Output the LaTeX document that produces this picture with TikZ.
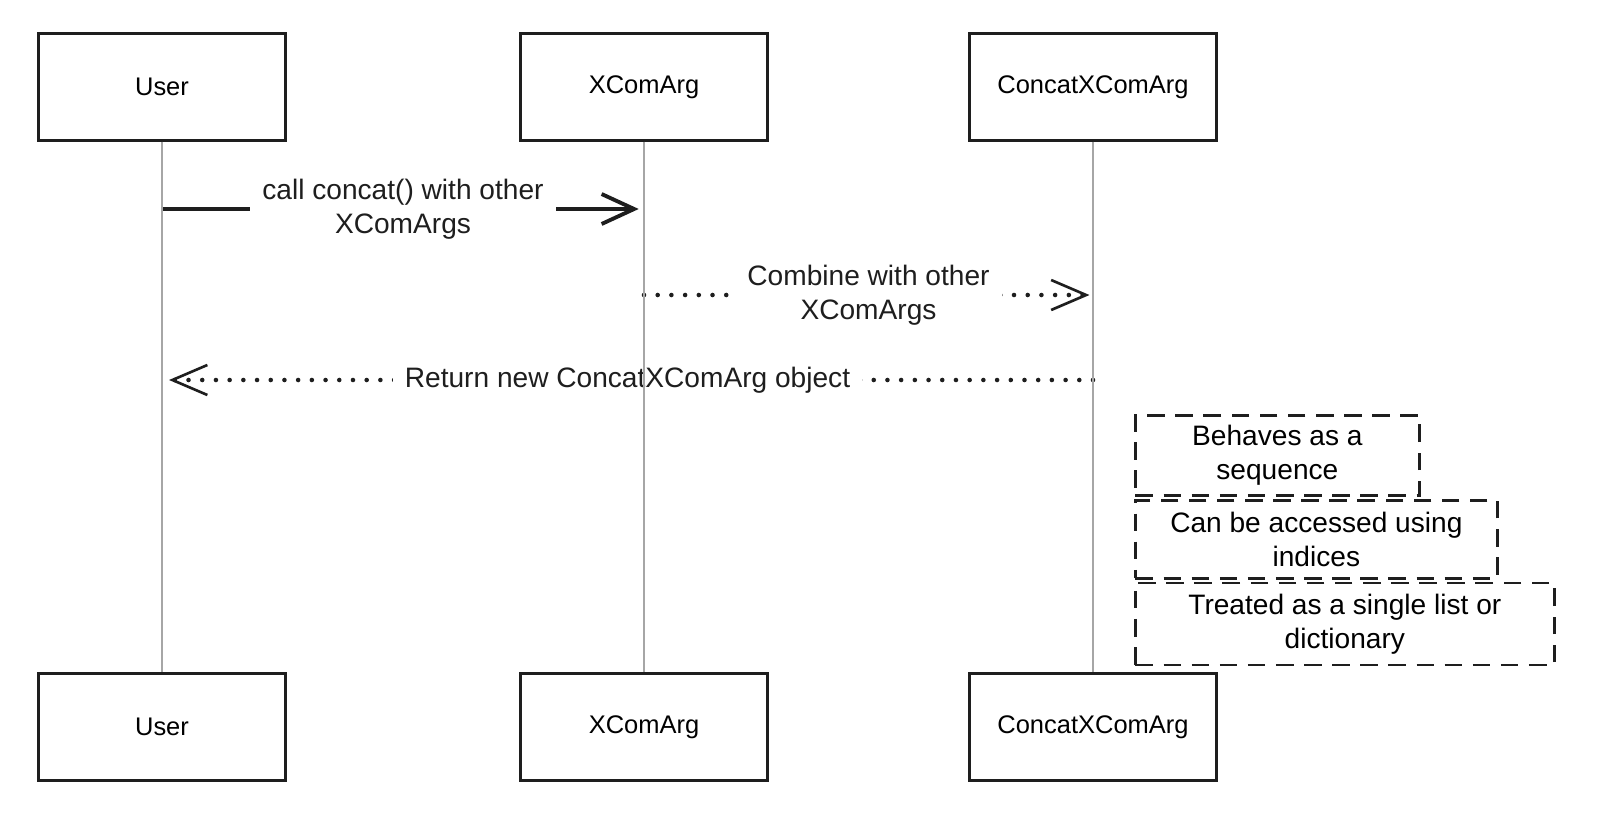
\documentclass[tikz,border=0pt]{standalone}
\usepackage{fontspec}
\setmainfont{Liberation Sans}
\usetikzlibrary{arrows.meta,positioning,calc}
\definecolor{inkblack}{HTML}{1E1E1E}
\definecolor{lifegray}{HTML}{A6A6A6}
\tikzset{
  actor/.style={rectangle, draw=inkblack, line width=1.4pt, fill=white,
                minimum width=4.94cm, minimum height=2.14cm, font=\fontsize{14.5}{19}\selectfont},
  life/.style={draw=lifegray, line width=0.7pt},
  callmsg/.style={-{Straight Barb[length=6.5mm,width=6mm]}, line width=2.2pt, draw=inkblack},
  retmsg/.style={-{Straight Barb[length=7mm,width=6mm,line width=1.5pt]}, line width=2.6pt,
                 line cap=round, dash pattern=on 0pt off 7.8pt, draw=inkblack},
  msgtext/.style={fill=white, align=center, inner xsep=7pt, text=inkblack,
                  font=\fontsize{16}{19.3}\selectfont},
  note/.style={rectangle, draw=inkblack, line width=1.6pt, dash pattern=on 10pt off 6pt,
               align=center, anchor=north west, font=\fontsize{16}{19.3}\selectfont},
}
\begin{document}
\begin{tikzpicture}[x=0.02cm, y=-0.02cm]
  \useasboundingbox (0,0) rectangle (1600,829);
  % participants
  \node[actor] (userT) at (162,87) {User};
  \node[actor] (xcomT) at (644,87) {XComArg};
  \node[actor] (concatT) at (1093,87) {ConcatXComArg};
  \node[actor] (userB) at (162,727) {User};
  \node[actor] (xcomB) at (644,727) {XComArg};
  \node[actor] (concatB) at (1093,727) {ConcatXComArg};
  % message points
  \coordinate (u1) at (userT |- 0,209);
  \coordinate (x1) at (xcomT |- 0,209);
  \coordinate (x2) at (xcomT |- 0,295);
  \coordinate (c2) at (concatT |- 0,295);
  \coordinate (c3) at (concatT |- 0,380);
  \coordinate (u3) at (userT |- 0,380);
  % messages
  \draw[callmsg, shorten >=3pt] (u1) -- (x1) node[msgtext, midway] {call concat() with other\\XComArgs};
  \draw[retmsg, shorten >=2pt] (x2) -- (c2) node[msgtext, midway] {Combine with other\\XComArgs};
  \draw[retmsg, shorten >=4pt] (c3) -- (u3) node[msgtext, midway] {Return new ConcatXComArg object};
  % lifelines
  \draw[life] (userT) -- (userB);
  \draw[life] (xcomT) -- (xcomB);
  \draw[life] (concatT) -- (concatB);
  % notes
  \node[note, minimum width=5.68cm, minimum height=1.6cm] (n1) at (1134,414) {Behaves as a\\sequence};
  \node[note, minimum width=7.24cm, minimum height=1.56cm, below=0.04cm of n1.south west, anchor=north west] (n2) {Can be accessed using\\indices};
  \node[note, minimum width=8.38cm, minimum height=1.64cm, below=0.04cm of n2.south west, anchor=north west] (n3) {Treated as a single list or\\dictionary};
\end{tikzpicture}
\end{document}
